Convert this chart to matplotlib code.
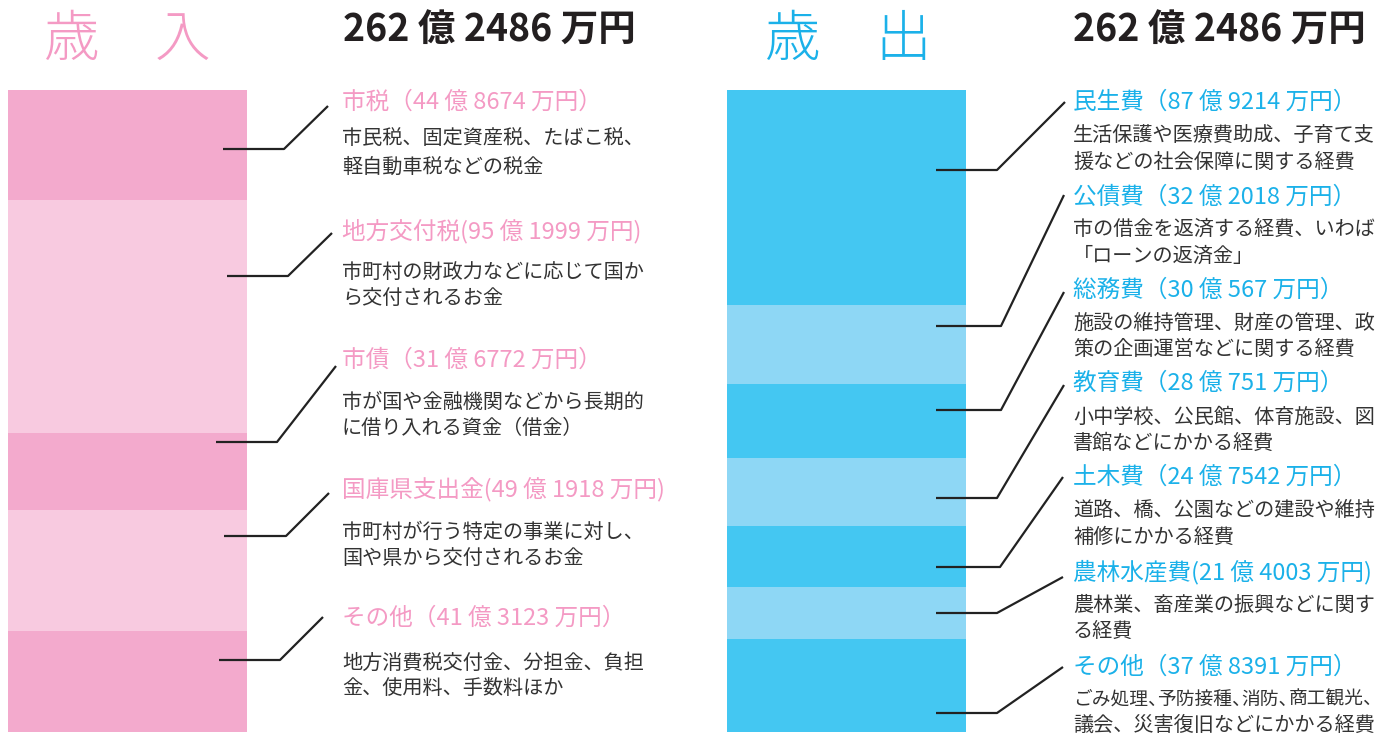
import matplotlib
matplotlib.use("Agg")
import matplotlib.pyplot as plt

plt.rcParams['font.family'] = ['Noto Sans CJK JP', 'DejaVu Sans']

# ---------------- data ----------------
rev_names = ['市税', '地方交付税', '市債', '国庫県支出金', 'その他']
rev_oku = [44, 95, 31, 49, 41]
rev_man = [8674, 1999, 6772, 1918, 3123]
rev_desc = [
    ['市民税、固定資産税、たばこ税、', '軽自動車税などの税金'],
    ['市町村の財政力などに応じて国か', 'ら交付されるお金'],
    ['市が国や金融機関などから長期的', 'に借り入れる資金（借金）'],
    ['市町村が行う特定の事業に対し、', '国や県から交付されるお金'],
    ['地方消費税交付金、分担金、負担', '金、使用料、手数料ほか'],
]

exp_names = ['民生費', '公債費', '総務費', '教育費', '土木費', '農林水産費', 'その他']
exp_oku = [87, 32, 30, 28, 24, 21, 37]
exp_man = [9214, 2018, 567, 751, 7542, 4003, 8391]
exp_desc = [
    ['生活保護や医療費助成、子育て支', '援などの社会保障に関する経費'],
    ['市の借金を返済する経費、いわば', '「ローンの返済金」'],
    ['施設の維持管理、財産の管理、政', '策の企画運営などに関する経費'],
    ['小中学校、公民館、体育施設、図', '書館などにかかる経費'],
    ['道路、橋、公園などの建設や維持', '補修にかかる経費'],
    ['農林業、畜産業の振興などに関す', 'る経費'],
    ['ごみ処理、予防接種、消防、商工観光、', '議会、災害復旧などにかかる経費'],
]

# ---------------- style ----------------
W, H = 1386, 736
PINK_D, PINK_L = '#F3AACD', '#F8CAE0'
BLUE_D, BLUE_L = '#44C7F2', '#8ED7F5'
PINK_T = '#F49AC4'
BLUE_T = '#1BB1E9'
DESC_C = '#333333'
HEAD_FS = 17
DESC_FS = 14.5

fig = plt.figure(figsize=(W / 100, H / 100), dpi=100)
fig.patch.set_facecolor('white')


def px_axes(x0, y0, x1, y1):
    return fig.add_axes([x0 / W, 1 - y1 / H, (x1 - x0) / W, (y1 - y0) / H])


def stacked(ax, vals, colors):
    total = sum(vals)
    bottom = 0
    for v, c in zip(vals, colors):
        ax.bar(0, v, bottom=bottom, width=1.0, color=c, linewidth=0)
        bottom += v
    ax.set_xlim(-0.5, 0.5)
    ax.set_ylim(total, 0)
    ax.axis('off')


rev_vals = [o + m / 10000 for o, m in zip(rev_oku, rev_man)]
exp_vals = [o + m / 10000 for o, m in zip(exp_oku, exp_man)]

stacked(px_axes(8, 90, 247, 732), rev_vals,
        [PINK_D if i % 2 == 0 else PINK_L for i in range(len(rev_vals))])
stacked(px_axes(727, 90, 966, 732), exp_vals,
        [BLUE_D if i % 2 == 0 else BLUE_L for i in range(len(exp_vals))])

ov = fig.add_axes([0, 0, 1, 1])
ov.set_xlim(0, W)
ov.set_ylim(H, 0)
ov.axis('off')
ov.patch.set_alpha(0)


def total_str(vals):
    t = round(sum(vals) * 10000)
    return f"{t // 10000} 億 {t % 10000} 万円"


def heading(name, oku, man):
    if len(name) >= 5:
        return f"{name}({oku} 億 {man} 万円)"
    return f"{name}（{oku} 億 {man} 万円）"


def desc_line(x, y, line, fs):
    """Draw a description line; lines too long for the column use
    proportional (half-width) spacing after the ideographic comma."""
    em = fs * 100 / 72
    if len(line) * em <= W - x:
        ov.text(x, y, line, color=DESC_C, fontsize=fs, va='center', ha='left')
        return
    parts = line.split('、')
    cx = x
    for k, p in enumerate(parts):
        if not p:
            continue
        seg = p + ('、' if k < len(parts) - 1 else '')
        ov.text(cx, y, seg, color=DESC_C, fontsize=fs, va='center', ha='left')
        cx += len(p) * em + (0.5 * em if k < len(parts) - 1 else 0)


# titles
ov.text(44, 40, '歳\u3000入', color=PINK_T, fontsize=40, va='center', ha='left',
        fontweight='light')
ov.text(765, 40, '歳\u3000出', color=BLUE_T, fontsize=40, va='center', ha='left',
        fontweight='light')
ov.text(343, 30, total_str(rev_vals), color='#231F20', fontsize=27,
        fontweight='bold', va='center', ha='left')
ov.text(1073, 30, total_str(exp_vals), color='#231F20', fontsize=27,
        fontweight='bold', va='center', ha='left')

# revenue labels
rev_head_y = [102, 231, 360, 489, 618]
rev_desc_y = [(139, 167), (272, 299), (402, 428), (532, 558), (663, 689)]
rev_lines = [((223, 149), (284, 149), (328, 106)),
             ((227, 276), (288, 276), (332, 233)),
             ((216, 442), (277, 442), (336, 366)),
             ((224, 536), (286, 536), (329, 493)),
             ((219, 660), (280, 660), (323, 617))]
for i in range(len(rev_names)):
    ov.text(342, rev_head_y[i], heading(rev_names[i], rev_oku[i], rev_man[i]),
            color=PINK_T, fontsize=HEAD_FS, va='center', ha='left')
    for line, y in zip(rev_desc[i], rev_desc_y[i]):
        desc_line(342, y, line, DESC_FS)
    xs, ys = zip(*rev_lines[i])
    ov.plot(xs, ys, color='#222222', lw=1.6, solid_capstyle='butt')

# expenditure labels
exp_head_y = [102, 197, 290, 383, 477, 572, 667]
exp_desc_y = [(135, 162), (229, 256), (323, 349), (417, 443), (510, 537),
              (605, 631), (699, 725)]
exp_lines = [((936, 170), (997, 170), (1065, 102)),
             ((936, 326), (1001, 326), (1064, 195)),
             ((936, 410), (1001, 410), (1064, 292)),
             ((936, 498), (997, 498), (1064, 385)),
             ((936, 567), (1000, 567), (1063, 477)),
             ((936, 613), (997, 613), (1063, 577)),
             ((936, 713), (997, 713), (1063, 667))]
for i in range(len(exp_names)):
    ov.text(1073, exp_head_y[i], heading(exp_names[i], exp_oku[i], exp_man[i]),
            color=BLUE_T, fontsize=HEAD_FS, va='center', ha='left')
    for line, y in zip(exp_desc[i], exp_desc_y[i]):
        fs = DESC_FS if len(line) <= 16 else 13.5
        desc_line(1073, y, line, fs)
    xs, ys = zip(*exp_lines[i])
    ov.plot(xs, ys, color='#222222', lw=1.6, solid_capstyle='butt')

fig.savefig('out.png', dpi=100, facecolor='white')
